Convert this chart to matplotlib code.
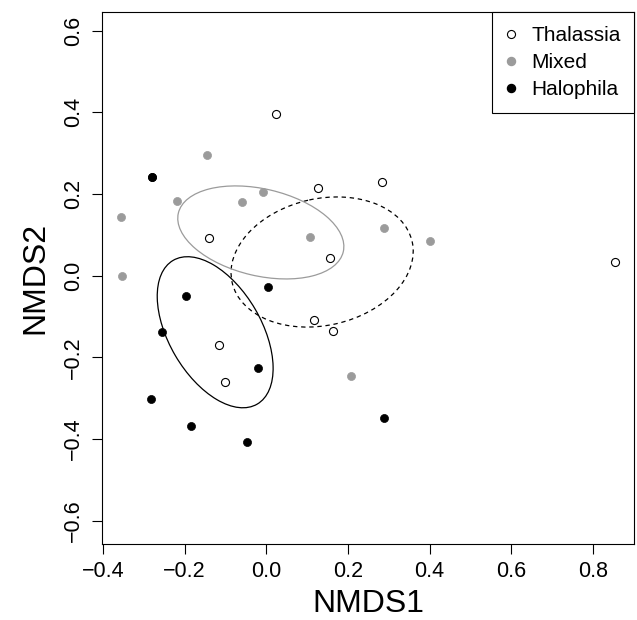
import numpy as np
import matplotlib
matplotlib.use('Agg')
import matplotlib.pyplot as plt
from matplotlib.patches import Ellipse
from matplotlib.lines import Line2D

plt.rcParams['font.family'] = ['Liberation Sans', 'DejaVu Sans']

# NMDS scores
thal_x = [0.024, 0.126, 0.283, -0.141, 0.155, 0.118, 0.164, -0.115, -0.100, 0.854]
thal_y = [0.395, 0.215, 0.229, 0.093, 0.043, -0.108, -0.135, -0.170, -0.260, 0.033]
mixed_x = [-0.146, -0.218, -0.060, -0.007, -0.356, 0.108, -0.352, 0.288, 0.402, 0.208]
mixed_y = [0.295, 0.184, 0.181, 0.206, 0.144, 0.095, -0.001, 0.116, 0.085, -0.246]
# two Halophila samples sit on top of each other at (-0.28, 0.242)
halo_x = [-0.280, -0.280, -0.197, 0.004, -0.254, -0.020, -0.281, -0.184, -0.046, 0.288]
halo_y = [0.242, 0.242, -0.050, -0.027, -0.138, -0.227, -0.303, -0.367, -0.408, -0.349]

groups = ['Thalassia', 'Mixed', 'Halophila']
grey = '#9b9b9b'


def se_ellipse(x, y, conf_chi2=-2 * np.log(0.05)):
    """standard error ellipse (95%) like vegan::ordiellipse(kind='se')"""
    pts = np.column_stack([x, y])
    n = len(pts)
    cov = np.cov(pts.T) / n * conf_chi2
    vals, vecs = np.linalg.eigh(cov)
    order = vals.argsort()[::-1]
    vals, vecs = vals[order], vecs[:, order]
    angle = np.degrees(np.arctan2(vecs[1, 0], vecs[0, 0]))
    return pts.mean(axis=0), 2 * np.sqrt(vals[0]), 2 * np.sqrt(vals[1]), angle


fig = plt.figure(figsize=(6.37, 6.2), dpi=100)
ax = fig.add_axes([0.1597, 0.1226, 0.8361, 0.8576])

ms = 5.8
ax.plot(thal_x, thal_y, 'o', ms=ms, mfc='white', mec='black', mew=0.8, ls='none')
ax.plot(mixed_x, mixed_y, 'o', ms=ms, mfc=grey, mec=grey, mew=0.5, ls='none')
ax.plot(halo_x, halo_y, 'o', ms=ms, mfc='black', mec='black', mew=0.5, ls='none')

for (x, y), col, ls in [((thal_x, thal_y), 'black', (0, (3.5, 3))),
                        ((mixed_x, mixed_y), grey, '-'),
                        ((halo_x, halo_y), 'black', '-')]:
    c, w, h, ang = se_ellipse(x, y)
    ax.add_patch(Ellipse(c, w, h, angle=ang, fill=False, ec=col, lw=0.9, ls=ls))

ax.set_xlim(-0.4027, 0.901)
ax.set_ylim(-0.657, 0.645)
ax.set_xticks([-0.4, -0.2, 0.0, 0.2, 0.4, 0.6, 0.8])
ax.set_yticks([-0.6, -0.4, -0.2, 0.0, 0.2, 0.4, 0.6])
ax.set_xticklabels(['\u22120.4', '\u22120.2', '0.0', '0.2', '0.4', '0.6', '0.8'])
ax.set_yticklabels(['\u22120.6', '\u22120.4', '\u22120.2', '0.0', '0.2', '0.4', '0.6'],
                   rotation=90, va='center')
ax.tick_params(axis='both', direction='out', length=7, width=0.8, labelsize=15.5)
ax.tick_params(axis='x', pad=5)
ax.tick_params(axis='y', pad=5.5)
for sp in ax.spines.values():
    sp.set_linewidth(0.8)

ax.set_xlabel('NMDS1', fontsize=23, labelpad=5)
ax.set_ylabel('NMDS2', fontsize=23, labelpad=9)

handles = [
    Line2D([], [], marker='o', ls='none', ms=ms, mfc='white', mec='black', mew=0.8),
    Line2D([], [], marker='o', ls='none', ms=ms, mfc=grey, mec=grey),
    Line2D([], [], marker='o', ls='none', ms=ms, mfc='black', mec='black'),
]
leg = ax.legend(handles, groups, loc='upper right', fontsize=15, frameon=True,
                fancybox=False, edgecolor='black', framealpha=1,
                borderaxespad=0, borderpad=0.65, labelspacing=0.39,
                handlelength=0.55, handletextpad=0.7)
leg.get_frame().set_linewidth(0.8)

fig.savefig('out.png', dpi=100)
